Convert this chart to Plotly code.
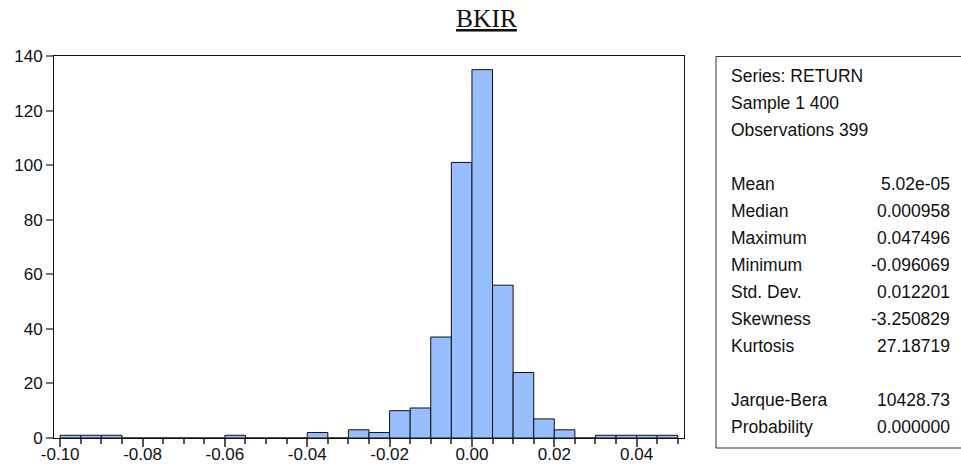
import plotly.graph_objects as go

# ---- data ----
bin_lo = [-0.100, -0.095, -0.090, -0.085, -0.080, -0.075, -0.070, -0.065, -0.060, -0.055,
          -0.050, -0.045, -0.040, -0.035, -0.030, -0.025, -0.020, -0.015, -0.010, -0.005,
          0.000, 0.005, 0.010, 0.015, 0.020, 0.025, 0.030, 0.035, 0.040, 0.045]
counts = [1, 1, 1, 0, 0, 0, 0, 0, 1, 0,
          0, 0, 2, 0, 3, 2, 10, 11, 37, 101,
          135, 56, 24, 7, 3, 0, 1, 1, 1, 1]
bin_width = 0.005

x_tick_vals = [-0.10, -0.08, -0.06, -0.04, -0.02, 0.00, 0.02, 0.04]
x_tick_text = ["-0.10", "-0.08", "-0.06", "-0.04", "-0.02", "0.00", "0.02", "0.04"]
y_tick_vals = [0, 20, 40, 60, 80, 100, 120, 140]

title_text = "BKIR"
stat_header = ["Series: RETURN", "Sample 1 400", "Observations 399"]
stat_names = ["Mean", "Median", "Maximum", "Minimum", "Std. Dev.", "Skewness", "Kurtosis"]
stat_values = ["5.02e-05", "0.000958", "0.047496", "-0.096069", "0.012201", "-3.250829", "27.18719"]
test_names = ["Jarque-Bera", "Probability"]
test_values = ["10428.73", "0.000000"]

# ---- layout geometry ----
W, H = 961, 468
L, R, T, B = 54, 277, 56, 30
PW = W - L - R
PH = H - T - B


def px(x):
    return (x - L) / PW


def py(y):
    return (H - B - y) / PH


SANS = "Liberation Sans, Arial, sans-serif"
SERIF = "Liberation Serif, Times New Roman, serif"

fig = go.Figure()
fig.add_trace(go.Bar(
    x=[b + bin_width / 2 for b in bin_lo],
    y=counts,
    width=bin_width,
    marker=dict(color="#97BEFF", line=dict(color="#111111", width=1)),
    hoverinfo="x+y",
))

fig.update_layout(
    width=W, height=H,
    margin=dict(l=L, r=R, t=T, b=B, pad=0, autoexpand=False),
    paper_bgcolor="white", plot_bgcolor="white",
    showlegend=False,
    font=dict(family=SANS, size=17, color="#111111"),
    xaxis=dict(
        range=[-0.1015, 0.0515], automargin=False,
        tickmode="array", tickvals=x_tick_vals, ticktext=x_tick_text,
        ticks="outside", ticklen=8, tickwidth=1.5, tickcolor="#555555",
        ticklabelstandoff=-7,
        showline=True, linecolor="#111111", linewidth=1, mirror=True,
        showgrid=False, zeroline=False,
        tickfont=dict(family=SANS, size=17, color="#111111"),
        minor=dict(tickmode="linear", tick0=0, dtick=bin_width, ticks="outside",
                   ticklen=5, tickwidth=1.5, tickcolor="#555555", showgrid=False),
    ),
    yaxis=dict(
        range=[0, 140], automargin=False,
        tickmode="array", tickvals=y_tick_vals,
        ticks="outside", ticklen=7, tickwidth=1.5, tickcolor="#777777",
        showline=True, linecolor="#111111", linewidth=1, mirror=True,
        showgrid=False, zeroline=False,
        tickfont=dict(family=SANS, size=17, color="#111111"),
    ),
)

# title
fig.add_annotation(
    x=px(486), y=py(19), xref="paper", yref="paper",
    text="<u>" + title_text + "</u>", showarrow=False,
    xanchor="center", yanchor="middle",
    font=dict(family=SERIF, size=25.5, color="#111111"),
)

# stats box
fig.add_shape(type="rect", xref="paper", yref="paper",
              x0=px(716), x1=px(985), y0=py(448), y1=py(56.5),
              line=dict(color="#333333", width=1), fillcolor="rgba(0,0,0,0)")

lab_x = px(729)
val_x = px(952)
sp = 27
y0 = 76
font_stats = dict(family=SANS, size=17.5, color="#111111")

for i, t in enumerate(stat_header):
    fig.add_annotation(x=lab_x, y=py(y0 + i * sp), xref="paper", yref="paper",
                       text=t, showarrow=False, xanchor="left", yanchor="middle",
                       font=font_stats)

for i, (n, v) in enumerate(zip(stat_names, stat_values)):
    yy = py(y0 + (4 + i) * sp)
    fig.add_annotation(x=lab_x, y=yy, xref="paper", yref="paper", text=n,
                       showarrow=False, xanchor="left", yanchor="middle", font=font_stats)
    fig.add_annotation(x=val_x, y=yy, xref="paper", yref="paper", text=v,
                       showarrow=False, xanchor="right", yanchor="middle", font=font_stats)

for i, (n, v) in enumerate(zip(test_names, test_values)):
    yy = py(y0 + (12 + i) * sp)
    fig.add_annotation(x=lab_x, y=yy, xref="paper", yref="paper", text=n,
                       showarrow=False, xanchor="left", yanchor="middle", font=font_stats)
    fig.add_annotation(x=val_x, y=yy, xref="paper", yref="paper", text=v,
                       showarrow=False, xanchor="right", yanchor="middle", font=font_stats)

fig.write_html(
    "out.html",
    config={"displayModeBar": False},
    post_script="document.body.style.margin='0';document.body.style.overflow='hidden';",
)
